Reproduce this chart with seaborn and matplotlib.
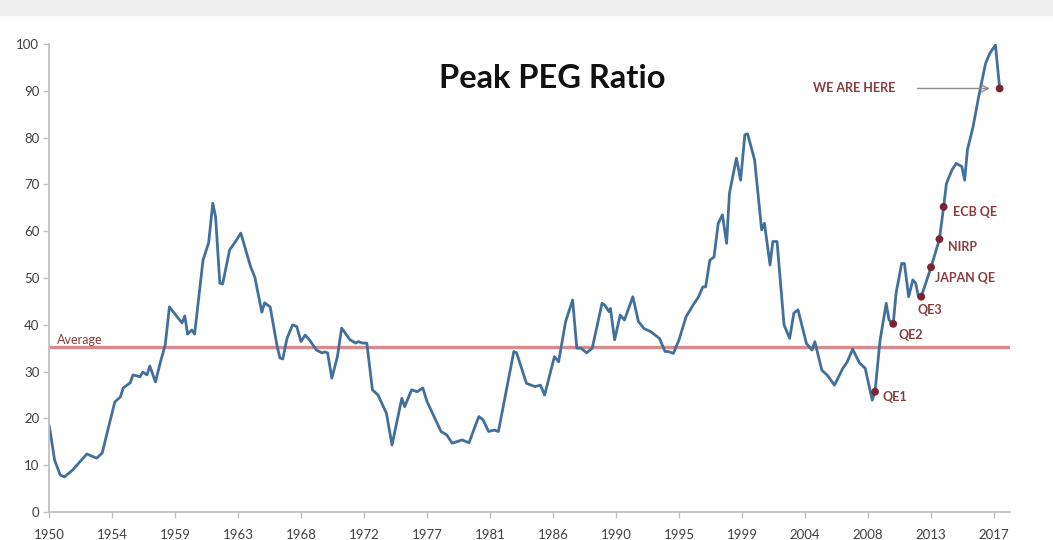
import numpy as np
import pandas as pd
import matplotlib
matplotlib.use("Agg")
import matplotlib.pyplot as plt
import seaborn as sns
from matplotlib.patches import Rectangle

# PEG ratio (year, value)
years = [1950.0, 1950.1, 1950.4, 1950.8, 1951.1, 1951.7, 1952.7, 1953.4, 1953.8, 1954.2,
         1954.7, 1955.1, 1955.3, 1955.8, 1956.0, 1956.5, 1956.7, 1957.0, 1957.2, 1957.6,
         1958.0, 1958.3, 1958.6, 1959.5, 1959.7, 1959.9, 1960.2, 1960.4, 1961.0, 1961.4,
         1961.7, 1961.9, 1962.2, 1962.4, 1962.9, 1963.3, 1963.7, 1964.4, 1964.7, 1965.2,
         1965.4, 1965.8, 1966.3, 1966.5, 1966.7, 1967.0, 1967.4, 1967.7, 1968.0, 1968.3,
         1968.6, 1969.1, 1969.5, 1969.7, 1969.9, 1970.2, 1970.6, 1970.9, 1971.5, 1971.9,
         1972.1, 1972.4, 1972.7, 1973.1, 1973.5, 1974.1, 1974.5, 1975.2, 1975.4, 1975.9,
         1976.3, 1976.7, 1977.0, 1977.5, 1978.0, 1978.4, 1978.8, 1979.5, 1980.0, 1980.7,
         1981.0, 1981.4, 1981.8, 1982.1, 1983.2, 1983.4, 1984.1, 1984.7, 1985.1, 1985.4,
         1986.1, 1986.4, 1986.9, 1987.4, 1987.7, 1988.0, 1988.4, 1988.8, 1989.5, 1989.7,
         1990.0, 1990.1, 1990.4, 1990.8, 1991.1, 1991.7, 1992.1, 1992.5, 1993.0, 1993.6,
         1994.0, 1994.2, 1994.6, 1995.0, 1995.5, 1996.0, 1996.4, 1996.7, 1996.9, 1997.2,
         1997.5, 1997.8, 1998.1, 1998.4, 1998.6, 1999.1, 1999.4, 1999.7, 1999.9, 2000.4,
         2000.9, 2001.1, 2001.5, 2001.7, 2002.0, 2002.5, 2002.9, 2003.2, 2003.5, 2004.1,
         2004.5, 2004.7, 2005.2, 2005.6, 2006.1, 2006.7, 2007.0, 2007.4, 2007.9, 2008.3,
         2008.8, 2009.0, 2009.35, 2009.8, 2010.0, 2010.3, 2010.5, 2010.9, 2011.1, 2011.4,
         2011.7, 2011.9, 2012.1, 2012.3, 2013.0, 2013.6, 2013.9, 2014.1, 2014.5, 2014.8,
         2015.2, 2015.4, 2015.6, 2016.0, 2016.4, 2016.9, 2017.2, 2017.6, 2017.9]
peg = [18.6, 16.9, 11.1, 7.9, 7.5, 9.0, 12.4, 11.5, 12.6, 17.5,
       23.5, 24.6, 26.5, 27.6, 29.3, 28.9, 29.9, 29.3, 31.2, 27.8,
       32.5, 35.7, 43.8, 40.4, 41.9, 38.0, 38.9, 38.0, 53.8, 57.5,
       66.0, 63.0, 48.9, 48.7, 56.0, 57.7, 59.6, 52.4, 50.2, 42.7,
       44.7, 43.8, 35.3, 32.9, 32.7, 37.1, 40.0, 39.6, 36.4, 37.8,
       36.8, 34.6, 34.0, 34.2, 34.0, 28.6, 33.2, 39.3, 36.8, 36.1,
       36.4, 36.1, 36.1, 26.1, 25.0, 21.1, 14.3, 24.3, 22.5, 26.1,
       25.7, 26.5, 23.6, 20.4, 17.2, 16.5, 14.7, 15.4, 14.8, 20.4,
       19.7, 17.2, 17.5, 17.2, 34.3, 34.0, 27.5, 26.8, 27.1, 25.0,
       33.2, 32.1, 40.7, 45.3, 35.0, 35.0, 34.0, 35.0, 44.6, 44.2,
       42.8, 43.5, 36.8, 42.1, 41.0, 46.0, 40.7, 39.2, 38.5, 37.1,
       34.3, 34.3, 33.9, 36.8, 41.7, 44.2, 46.0, 48.1, 48.1, 53.8,
       54.5, 61.7, 63.5, 57.4, 68.1, 75.6, 70.9, 80.6, 80.8, 75.2,
       60.3, 61.7, 52.8, 57.8, 57.8, 40.0, 37.1, 42.5, 43.2, 36.0,
       34.6, 36.4, 30.3, 29.2, 27.1, 30.7, 32.0, 34.8, 31.8, 30.7,
       23.9, 25.7, 36.5, 44.6, 41.0, 40.2, 46.7, 53.1, 53.1, 46.0,
       49.6, 48.9, 46.0, 46.0, 52.3, 58.3, 65.2, 70.2, 73.1, 74.5,
       73.8, 70.9, 77.4, 82.3, 88.7, 95.9, 98.0, 99.8, 90.5]

average = 35.3

# marked events
event_labels = ["QE1", "QE2", "QE3", "JAPAN QE", "NIRP", "ECB QE", "WE ARE HERE"]
event_years = [2009.0, 2010.3, 2012.3, 2013.0, 2013.6, 2013.9, 2017.9]
event_values = [25.7, 40.2, 46.0, 52.3, 58.3, 65.2, 90.5]
# label offsets in pixels (dx, dy)
event_offsets = [(7, -5), (5, -11), (-4, -13), (4, -11), (9, -8), (9, -5)]

tick_pos = [1950 + 4.5 * i for i in range(16)]
tick_labels = ["1950", "1954", "1959", "1963", "1968", "1972", "1977", "1981",
               "1986", "1990", "1995", "1999", "2004", "2008", "2013", "2017"]

sns.set_theme(style="white")
plt.rcParams['font.family'] = ['Lato', 'DejaVu Sans']

df = pd.DataFrame({"year": years, "peg": peg})
ev = pd.DataFrame({"label": event_labels, "year": event_years, "peg": event_values})

fig = plt.figure(figsize=(10.53, 5.40), dpi=100)
fig.patches.append(Rectangle((0, 1 - 15 / 540), 1, 15 / 540, transform=fig.transFigure,
                             color="#efefef", zorder=0))
ax = fig.add_axes([49 / 1053, 28 / 540, 961 / 1053, 468 / 540])

ax.axhline(average, color="#d98a8c", lw=2.4, zorder=1)
sns.lineplot(data=df, x="year", y="peg", ax=ax, color="#42709c", lw=2.0, zorder=2)
sns.scatterplot(data=ev, x="year", y="peg", ax=ax, color="#7a2533", s=32,
                edgecolor="none", zorder=3)

red = "#8a3b3f"
for lab, yr, v, off in zip(event_labels[:-1], event_years[:-1], event_values[:-1], event_offsets):
    ax.annotate(lab, xy=(yr, v), xytext=off, textcoords="offset pixels",
                ha="left", va="center", fontsize=9, fontweight="bold", color=red)

# WE ARE HERE text and arrow
ax.annotate("WE ARE HERE", xy=(event_years[-1], event_values[-1]), xytext=(-145, 0),
            textcoords="offset pixels", ha="center", va="center",
            fontsize=9, fontweight="bold", color=red)
ax.annotate("", xy=(event_years[-1], event_values[-1]), xytext=(-82, 0),
            textcoords="offset pixels",
            arrowprops=dict(arrowstyle="->", color="#8c8c8c", lw=1.0, shrinkA=0, shrinkB=7))

ax.text(1950.6, average + 0.1, "Average", fontsize=9, color=red, va="bottom", ha="left")

ax.text((552 - 49) / 961, (512 - 78) / 468, "Peak PEG Ratio", transform=ax.transAxes,
        fontsize=23.5, fontweight="bold", color="#111111", ha="center", va="center")

ax.set_xlim(1950, 2018.64)
ax.set_ylim(0, 100)
ax.set_yticks(range(0, 101, 10))
ax.set_xticks(tick_pos)
ax.set_xticklabels(tick_labels)
ax.set_xlabel("")
ax.set_ylabel("")

for side in ["top", "right"]:
    ax.spines[side].set_visible(False)
for side in ["left", "bottom"]:
    ax.spines[side].set_color("#c0c0c0")
    ax.spines[side].set_linewidth(1.3)
ax.tick_params(axis="both", which="both", direction="out", length=4, width=1,
               color="#c0c0c0", labelsize=9.5, labelcolor="#404040", pad=3)
ax.tick_params(axis="x", pad=8)
ax.tick_params(left=True, bottom=True)

fig.savefig("out.png", dpi=100)
